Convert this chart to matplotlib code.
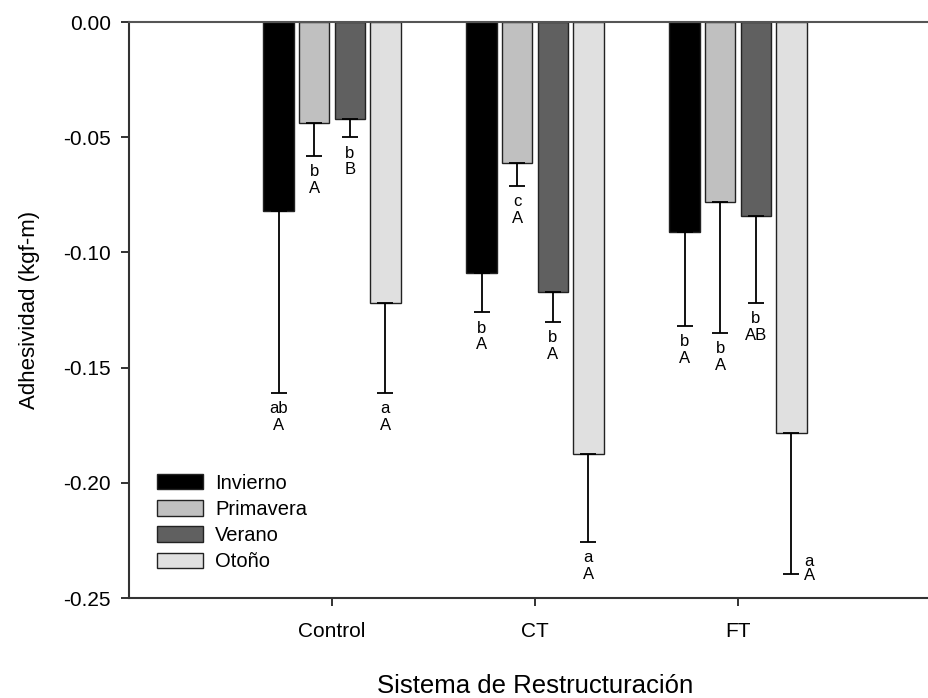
import numpy as np
import matplotlib
matplotlib.use("Agg")
import matplotlib.pyplot as plt

plt.rcParams["font.family"] = ["Liberation Sans", "DejaVu Sans"]

# ── data ──
sistemas = ["Control", "CT", "FT"]
estaciones = ["Invierno", "Primavera", "Verano", "Otoño"]

invierno = [-0.082, -0.109, -0.091]
primavera = [-0.044, -0.061, -0.078]
verano = [-0.042, -0.117, -0.084]
otono = [-0.122, -0.1875, -0.1785]

err_invierno = [0.079, 0.017, 0.041]
err_primavera = [0.014, 0.010, 0.057]
err_verano = [0.008, 0.013, 0.038]
err_otono = [0.039, 0.038, 0.061]

let_invierno = ["ab\nA", "b\nA", "b\nA"]
let_primavera = ["b\nA", "c\nA", "b\nA"]
let_verano = ["b\nB", "b\nA", "b\nAB"]
let_otono = ["a\nA", "a\nA", "a\nA"]

series = [invierno, primavera, verano, otono]
errors = [err_invierno, err_primavera, err_verano, err_otono]
letters = [let_invierno, let_primavera, let_verano, let_otono]
colors = ["#000000", "#c0c0c0", "#606060", "#e0e0e0"]

fig = plt.figure(figsize=(9.29, 6.98), dpi=100)
ax = fig.add_axes([129 / 929, 100 / 698, 812 / 929, 576 / 698])

x = np.arange(len(sistemas))
width = 0.15
offsets = [-0.2625, -0.0875, 0.0875, 0.2625]

for k, (vals, errs, lets) in enumerate(zip(series, errors, letters)):
    xs = x + offsets[k]
    ax.bar(xs, vals, width, color=colors[k], edgecolor="#222222",
           linewidth=1.0, label=estaciones[k], zorder=2)
    ax.errorbar(xs, vals, yerr=[errs, np.zeros(len(errs))], fmt="none",
                ecolor="black", elinewidth=1.3, capsize=6, capthick=1.3,
                zorder=3)
    for i in range(len(xs)):
        cap = vals[i] - errs[i]
        if k == 3 and i == 2:
            # label beside the cap (no room below)
            ax.annotate(lets[i], (xs[i], cap), xytext=(13, 4),
                        textcoords="offset points", ha="center", va="center",
                        fontsize=12, linespacing=0.95)
        else:
            ax.annotate(lets[i], (xs[i], cap), xytext=(0, -6),
                        textcoords="offset points", ha="center", va="top",
                        fontsize=12, linespacing=1.15)

ax.set_xlim(-1, 3)
ax.set_ylim(-0.25, 0.0)
ax.set_yticks([0.0, -0.05, -0.10, -0.15, -0.20, -0.25])
ax.set_yticklabels(["0.00", "-0.05", "-0.10", "-0.15", "-0.20", "-0.25"])
ax.set_xticks(x)
ax.set_xticklabels(sistemas)

for s in ["left", "bottom"]:
    ax.spines[s].set_color("#333333")
    ax.spines[s].set_linewidth(1.5)
ax.spines["top"].set_color("#555555")
ax.spines["top"].set_linewidth(1.5)
ax.spines["right"].set_visible(False)

ax.tick_params(axis="y", direction="out", length=6, width=1.3,
               labelsize=15, pad=7, colors="#222222")
ax.tick_params(axis="x", direction="out", length=6, width=1.3,
               labelsize=15, pad=11, colors="#222222")
ax.tick_params(labelcolor="black")

ax.set_ylabel("Adhesividad (kgf-m)", fontsize=16)
ax.yaxis.set_label_coords(-0.11, 0.5)
ax.set_xlabel("Sistema de Restructuración", fontsize=18.5)
ax.xaxis.set_label_coords(0.5, -0.132)

ax.legend(loc="upper left", bbox_to_anchor=(0.034, 0.216), frameon=False,
          fontsize=14.5, borderpad=0, borderaxespad=0, handlelength=2.3,
          handleheight=0.8, handletextpad=0.6, labelspacing=0.36)

plt.savefig("out.png", dpi=100)
plt.close(fig)
